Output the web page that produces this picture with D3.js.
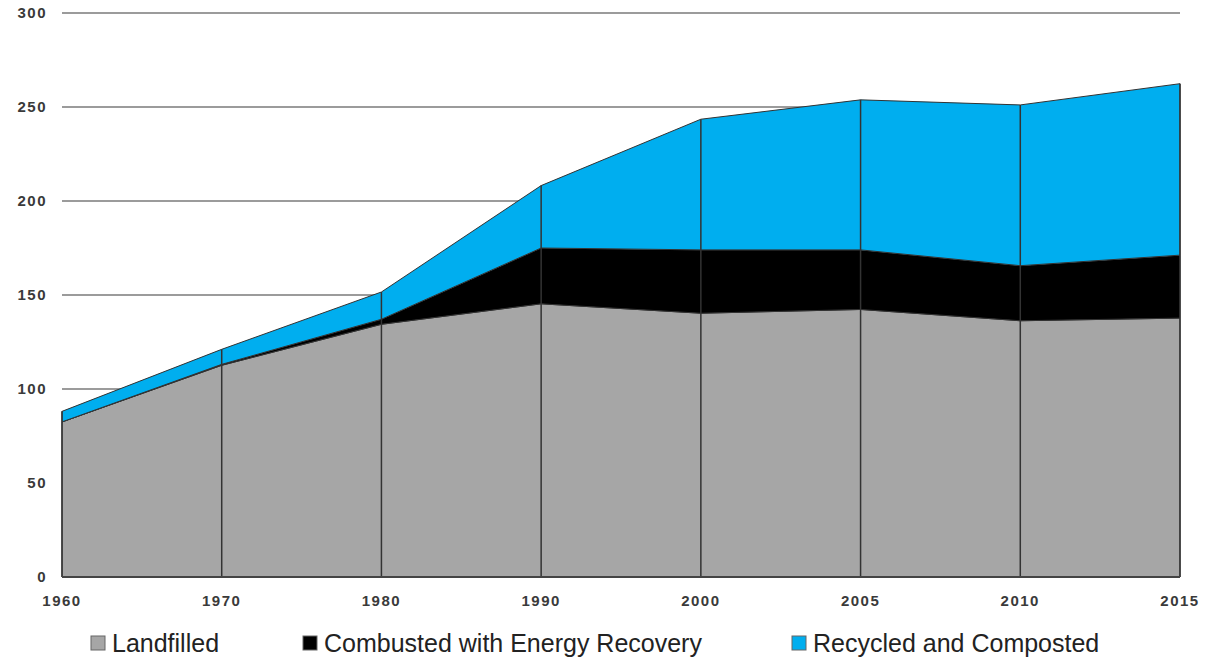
<!DOCTYPE html>
<html><head><meta charset="utf-8">
<script src="https://cdn.jsdelivr.net/npm/d3@7"></script>
<style>body{margin:0;background:#fff}svg{display:block}</style>
</head><body><svg id="c" width="1215" height="658"></svg>
<script>
const years = ["1960","1970","1980","1990","2000","2005","2010","2015"];
const landfilled = [82.5, 112.6, 134.4, 145.3, 140.3, 142.3, 136.3, 137.7];
const combusted = [0, 0.5, 2.7, 29.7, 33.7, 31.7, 29.3, 33.5];
const recycled = [5.6, 8.0, 14.5, 33.2, 69.5, 79.8, 85.5, 91.2];
const yTicks = [0, 50, 100, 150, 200, 250, 300];
const seriesNames = ["Landfilled", "Combusted with Energy Recovery", "Recycled and Composted"];
const colors = ["#a6a6a6", "#000000", "#00aeef"];

const svg = d3.select("#c");
const x = d3.scalePoint().domain(years).range([62, 1180]);
const y = d3.scaleLinear().domain([0, 300]).range([577, 13]);

const rows = years.map((yr, i) => ({year: yr, l: landfilled[i], c: combusted[i], r: recycled[i]}));
const stack = d3.stack().keys(["l", "c", "r"]);
const layers = stack(rows);

// gridlines
svg.append("g").selectAll("line").data(yTicks).join("line")
  .attr("x1", 62).attr("x2", 1180)
  .attr("y1", d => y(d)).attr("y2", d => y(d))
  .attr("stroke", "#7a7a7a").attr("stroke-width", 1.5);

const area = d3.area().x(d => x(d.data.year)).y0(d => y(d[0])).y1(d => y(d[1]));
svg.append("g").selectAll("path").data(layers).join("path")
  .attr("d", area).attr("fill", (d, i) => colors[i])
  .attr("stroke", "#333").attr("stroke-width", 1).attr("stroke-linejoin", "round");

// vertical dividers
svg.append("g").selectAll("line").data(rows).join("line")
  .attr("x1", d => x(d.year)).attr("x2", d => x(d.year))
  .attr("y1", y(0)).attr("y2", d => y(d.l + d.c + d.r))
  .attr("stroke", "#333").attr("stroke-width", 1.5);

// baseline
svg.append("line").attr("x1", 62).attr("x2", 1180).attr("y1", y(0)).attr("y2", y(0))
  .attr("stroke", "#444").attr("stroke-width", 2);

const font = "Liberation Sans, Arial, sans-serif";
// y labels
svg.append("g").selectAll("text").data(yTicks).join("text")
  .attr("x", 47).attr("y", d => y(d)).attr("dy", "0.35em")
  .attr("text-anchor", "end").attr("font-family", font)
  .attr("font-size", 15).attr("font-weight", "bold").attr("fill", "#3a3a3a")
  .attr("letter-spacing", 1.5)
  .text(d => d);

// x labels
svg.append("g").selectAll("text").data(years).join("text")
  .attr("x", d => x(d)).attr("y", 606)
  .attr("text-anchor", "middle").attr("font-family", font)
  .attr("font-size", 15).attr("font-weight", "bold").attr("fill", "#3a3a3a")
  .attr("letter-spacing", 1.5)
  .text(d => d);

// legend
const legX = [91, 303, 792];
const leg = svg.append("g").selectAll("g").data(seriesNames).join("g")
  .attr("transform", (d, i) => `translate(${legX[i]},0)`);
leg.append("rect").attr("x", 0).attr("y", 636).attr("width", 14).attr("height", 14)
  .attr("fill", (d, i) => colors[i]).attr("stroke", "#666").attr("stroke-width", 1);
leg.append("text").attr("x", 21).attr("y", 652)
  .attr("font-family", font).attr("font-size", 25)
  .attr("fill", "#222").text(d => d);
</script></body></html>
